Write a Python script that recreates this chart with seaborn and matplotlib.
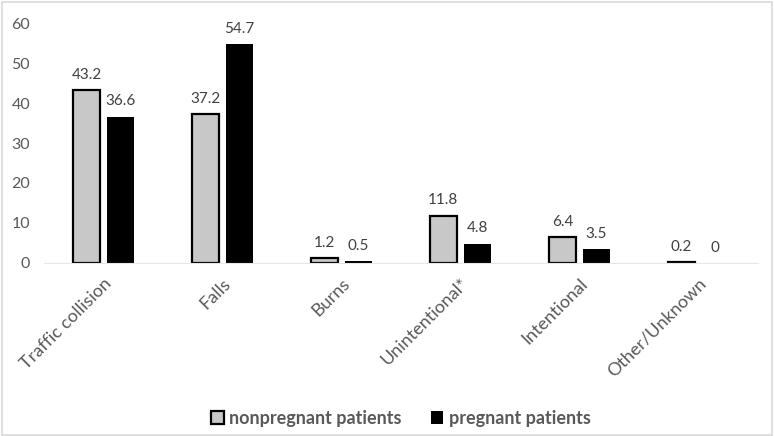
import pandas as pd
import seaborn as sns
import matplotlib.pyplot as plt
from matplotlib.patches import Rectangle

categories = ['Traffic collision', 'Falls', 'Burns', 'Unintentional*', 'Intentional', 'Other/Unknown']
nonpregnant = [43.2, 37.2, 1.2, 11.8, 6.4, 0.2]
pregnant = [36.6, 54.7, 0.5, 4.8, 3.5, 0]
groups = ['nonpregnant patients', 'pregnant patients']

df = pd.DataFrame({
    'category': categories * 2,
    'value': nonpregnant + pregnant,
    'group': [groups[0]] * len(categories) + [groups[1]] * len(categories),
})

sns.set_style('white')
plt.rcParams['font.family'] = ['Lato', 'DejaVu Sans']

fig = plt.figure(figsize=(7.74, 4.36), dpi=100)
ax = fig.add_axes([0.057, 0.397, 0.922, 0.55])

sns.barplot(data=df, x='category', y='value', hue='group',
            palette={groups[0]: '#c8c8c8', groups[1]: '#000000'},
            width=0.572, gap=0.2, edgecolor='black', linewidth=1.6,
            errorbar=None, ax=ax)

# black bars need no outline (keeps the zero bar invisible)
for bar in ax.containers[1]:
    bar.set_linewidth(0)

for cont in ax.containers:
    ax.bar_label(cont, labels=[f'{v:g}' for v in cont.datavalues],
                 padding=6, fontsize=11, color='#404040')

ax.set_ylim(0, 60)
ax.set_yticks(range(0, 61, 10))
ax.set_xlim(-0.5, len(categories) - 0.5)
ax.set_xlabel('')
ax.set_ylabel('')
for s in ['top', 'right', 'left']:
    ax.spines[s].set_visible(False)
ax.spines['bottom'].set_color('#e6e6e6')
ax.spines['bottom'].set_linewidth(0.8)
ax.tick_params(axis='both', length=0, colors='#595959')
ax.tick_params(axis='y', pad=10, labelsize=11.5)
ax.tick_params(axis='x', pad=9, labelsize=13)
plt.setp(ax.get_xticklabels(), rotation=45, ha='right', rotation_mode='anchor')

leg = ax.legend(loc='lower center', bbox_to_anchor=(0.5, -0.75), ncol=2, frameon=False,
                prop={'weight': 'bold', 'size': 13}, labelcolor='#595959',
                handlelength=0.7, handleheight=0.7, handletextpad=0.3, columnspacing=1.6)
leg.legend_handles[1].set_linewidth(0)

fig.patches.append(Rectangle((0.002, 0.003), 0.995, 0.993, transform=fig.transFigure,
                             fill=False, edgecolor='#d9d9d9', linewidth=1.2))

fig.savefig('out.png', dpi=100)
